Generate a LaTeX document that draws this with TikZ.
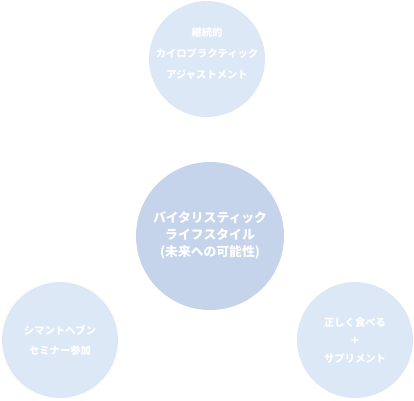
\documentclass[tikz,border=0pt]{standalone}
\usepackage{fontspec}
\setmainfont{Noto Sans CJK JP}
\begin{document}
\begin{tikzpicture}[x=1pt,y=-1pt,
  outer/.style={circle,fill=lightblue,minimum size=116pt,inner sep=0pt},
  inner/.style={circle,fill=midblue,minimum size=148pt,inner sep=0pt},
  smalltxt/.style={text=white,font=\fontsize{10.3}{20}\selectfont\bfseries,align=center},
  bigtxt/.style={text=white,font=\fontsize{12.8}{17}\selectfont\bfseries,align=center}]
\definecolor{lightblue}{HTML}{DDE8F6}
\definecolor{midblue}{HTML}{C5D4EA}
\useasboundingbox (0,0) rectangle (414,400);
\node[inner] (center) at (210,236) {};
\node[outer] (top) at (207,59) {};
\node[outer] (left) at (60,340) {};
\node[outer] (right) at (355,340) {};
\node[bigtxt] (centertxt) at (210,235) {バイタリスティック\\ライフスタイル\\(未来への可能性)};
\node[smalltxt,font=\fontsize{10.3}{21}\selectfont\bfseries] (toptxt) at (207,54) {継続的\\カイロプラクティック\\アジャストメント};
\node[smalltxt] (lefttxt) at (60,340) {シマントヘブン\\セミナー参加};
\node[smalltxt,font=\fontsize{10.3}{18}\selectfont\bfseries] (righttxt) at (355,340) {正しく食べる\\＋\\サプリメント};
\end{tikzpicture}
\end{document}
